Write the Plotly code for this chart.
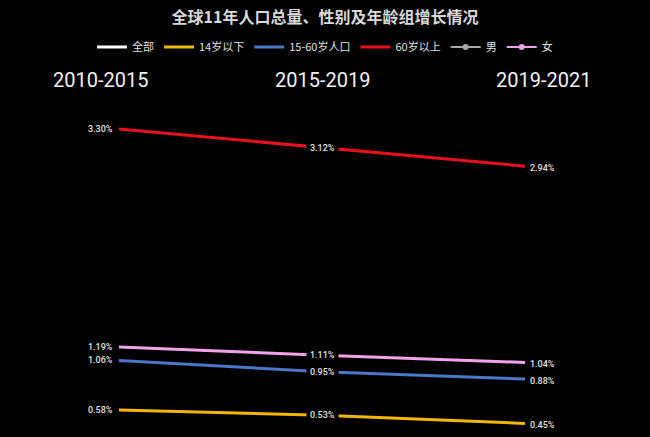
import plotly.graph_objects as go

periods = ["2010-2015", "2015-2019", "2019-2021"]
series_names = ["全部", "14岁以下", "15-60岁人口", "60岁以上", "男", "女"]
total = [1.19, 1.11, 1.04]
under14 = [0.58, 0.53, 0.45]
age15_60 = [1.06, 0.95, 0.88]
over60 = [3.30, 3.12, 2.94]
male = [1.19, 1.11, 1.04]
female = [1.19, 1.11, 1.04]

colors = ["#ffffff", "#f2b705", "#4a78c8", "#e8101a", "#a8a8a8", "#f0a2ea"]
values = [total, under14, age15_60, over60, male, female]
with_marker = [False, False, False, False, True, True]
labelled = [False, True, True, True, False, True]
hidden_under = [True, False, False, False, True, False]

xs = [0, 1, 2]
fig = go.Figure()
for i, (name, vals, col, mk, hid) in enumerate(zip(series_names, values, colors, with_marker, hidden_under)):
    own_legend = not (mk or hid)
    fig.add_trace(go.Scatter(
        x=xs, y=vals, name=name, mode="lines",
        line=dict(color=col, width=1.5 if hid else 3), showlegend=own_legend,
        legendrank=i, hoverinfo="skip",
    ))
    if not own_legend:
        fig.add_trace(go.Scatter(
            x=[None], y=[None], name=name, mode="lines+markers" if mk else "lines",
            line=dict(color=col, width=2 if mk else 3),
            marker=dict(size=6, color=col) if mk else None,
            legendrank=i, hoverinfo="skip",
        ))

annotations = []
lab_font = dict(family="Roboto, Noto Sans, sans-serif", size=9, color="#e0e0e0", weight=500)
for vals, lab in zip(values, labelled):
    if not lab:
        continue
    annotations.append(dict(x=xs[0], y=vals[0], xref="x", yref="y", text=f"{vals[0]:.2f}%",
                            showarrow=False, xanchor="right", xshift=-4, font=lab_font))
    annotations.append(dict(x=xs[1], y=vals[1], xref="x", yref="y", text=f"{vals[1]:.2f}%",
                            showarrow=False, xanchor="center", bgcolor="#000000", borderpad=3,
                            font=lab_font))
    annotations.append(dict(x=xs[2], y=vals[2], xref="x", yref="y", text=f"{vals[2]:.2f}%",
                            showarrow=False, xanchor="left", xshift=3, yshift=-2, font=lab_font))

head_x = [100 / 650, 322 / 650, 543 / 650]
for p, hx in zip(periods, head_x):
    annotations.append(dict(x=hx, y=1 - 80 / 437, xref="paper", yref="paper", text=p,
                            showarrow=False, xanchor="center", yanchor="middle",
                            font=dict(family="Roboto, Noto Sans, sans-serif", size=20, color="#f2f2f2")))

fig.update_layout(
    width=650, height=437,
    paper_bgcolor="#000000", plot_bgcolor="#000000",
    margin=dict(l=0, r=0, t=0, b=0),
    title=dict(text="全球11年人口总量、性别及年龄组增长情况", x=0.5, xanchor="center",
               y=1 - 17 / 437, yanchor="middle",
               font=dict(family="Noto Sans CJK SC", size=16, color="#d8d8d8", weight=600)),
    legend=dict(orientation="h", x=0.5, xanchor="center", y=1 - 47 / 437, yanchor="middle",
                font=dict(family="Noto Sans CJK SC", size=11, color="#e0e0e0"),
                bgcolor="rgba(0,0,0,0)", itemwidth=30, tracegroupgap=0),
    xaxis=dict(range=[-119 / 203, (650 - 119) / 203], visible=False, fixedrange=True),
    yaxis=dict(range=[(469.9 - 437) / 103.3, 469.9 / 103.3], visible=False, fixedrange=True),
    annotations=annotations,
    showlegend=True,
)
fig.write_html("out.html", config={"displayModeBar": False},
               post_script="document.body.style.margin='0';document.body.style.background='#000';")
